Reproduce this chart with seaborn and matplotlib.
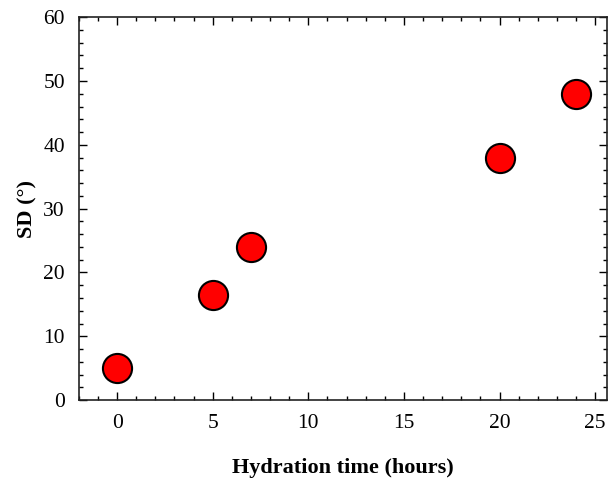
import numpy as np
import pandas as pd
import matplotlib.pyplot as plt
import seaborn as sns
from matplotlib.ticker import MultipleLocator

hours = [0, 5, 7, 20, 24]
sd_deg = [5, 16.5, 24, 38, 48]

df = pd.DataFrame({"Hydration time (hours)": hours, "SD": sd_deg})

sns.set_style("ticks")
plt.rcParams['font.family'] = ['Liberation Serif', 'DejaVu Serif']
plt.rcParams['text.color'] = 'black'
plt.rcParams['axes.labelcolor'] = 'black'
plt.rcParams['xtick.color'] = 'black'
plt.rcParams['ytick.color'] = 'black'

fig = plt.figure(figsize=(6.11, 4.78), dpi=100)
ax = fig.add_axes([0.129, 0.163, 0.864, 0.801])

sns.scatterplot(data=df, x="Hydration time (hours)", y="SD", ax=ax,
                s=440, color="#ff0000", edgecolor="black", linewidth=1.5,
                zorder=3)

ax.set_xlim(-2, 25.6)
ax.set_ylim(0, 60)
ax.xaxis.set_major_locator(MultipleLocator(5))
ax.xaxis.set_minor_locator(MultipleLocator(1))
ax.yaxis.set_major_locator(MultipleLocator(10))
ax.yaxis.set_minor_locator(MultipleLocator(2))
ax.tick_params(which="both", direction="in", top=True, right=True,
               labelsize=15.5, width=1)
ax.tick_params(which="major", length=6, pad=10)
ax.tick_params(which="minor", length=3)
for s in ax.spines.values():
    s.set_linewidth(1.2)
    s.set_color("#222222")

ax.set_xlabel("Hydration time (hours)", fontsize=16, fontweight="bold", labelpad=18)
ax.set_ylabel("SD (°)", fontsize=16, fontweight="bold", labelpad=4)

fig.savefig("out.png", dpi=100)
